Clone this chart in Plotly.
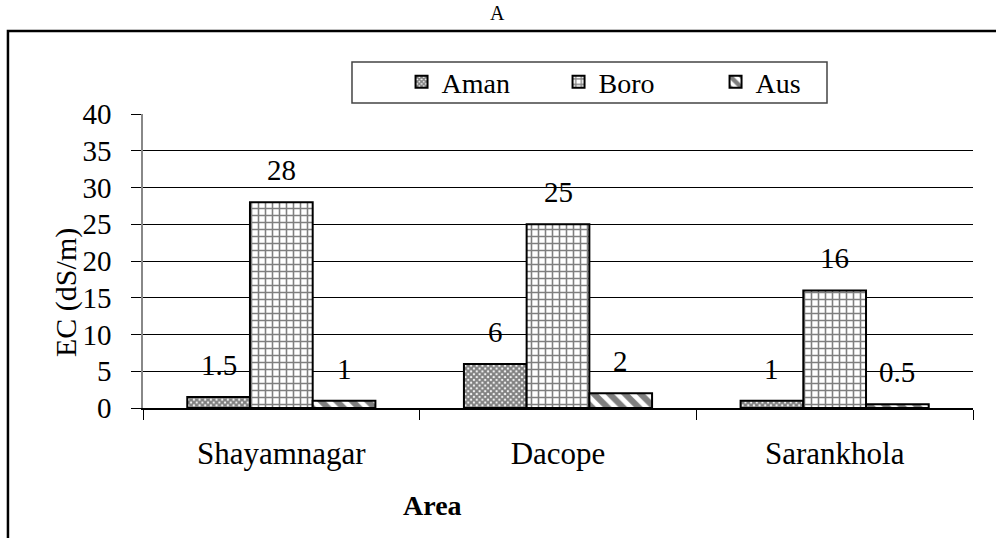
import plotly.graph_objects as go

# EC readings by area and rice season
areas = ["Shayamnagar", "Dacope", "Sarankhola"]
aman = [1.5, 6, 1]
boro = [28, 25, 16]
aus = [1, 2, 0.5]

series = [
    ("Aman", aman, dict(shape="x", size=4, solidity=0.75)),
    ("Boro", boro, dict(shape="+", size=7, solidity=0.4)),
    ("Aus", aus, dict(shape="\\", size=11, solidity=0.55)),
]

FONT = "Liberation Serif"
BARGAP = 0.32

fig = go.Figure()
for name, vals, pat in series:
    fig.add_trace(go.Bar(
        name=name, x=areas, y=vals,
        marker=dict(color="white", line=dict(color="black", width=2),
                    pattern=dict(fgcolor="black", bgcolor="white", fillmode="overlay", **pat)),
    ))

# value labels floating above each bar
n = len(series)
bw = (1 - BARGAP) / n
annotations = []
for si, (name, vals, _) in enumerate(series):
    off = (si - (n - 1) / 2) * bw
    for ci, v in enumerate(vals):
        annotations.append(dict(
            x=ci + off, y=v, xref="x", yref="y", text=f"{v:g}", showarrow=False,
            xanchor="center", yanchor="middle", yshift=32,
            font=dict(family=FONT, size=29, color="black"),
        ))

annotations += [
    dict(text="A", x=0.4277, y=1.3435, xref="paper", yref="paper", showarrow=False,
         xanchor="center", yanchor="middle", font=dict(family=FONT, size=20, color="black")),
    dict(text="EC (dS/m)", x=-0.0928, y=0.3946, xref="paper", yref="paper", showarrow=False,
         xanchor="center", yanchor="middle", textangle=-90,
         font=dict(family=FONT, size=30, color="black")),
    dict(text="<b>Area</b>", x=0.349, y=-0.330, xref="paper", yref="paper", showarrow=False,
         xanchor="center", yanchor="middle", font=dict(family=FONT, size=28, color="black")),
]

shapes = [
    # outer frame
    dict(type="rect", xref="paper", yref="paper", x0=-0.1627, x1=1.06, y0=-0.5, y1=1.2823,
         line=dict(color="black", width=2.5), fillcolor="rgba(0,0,0,0)", layer="below"),
    # legend frame
    dict(type="rect", xref="paper", yref="paper", x0=0.2518, x1=0.8241, y0=1.0374, y1=1.1769,
         line=dict(color="#444", width=1.5), fillcolor="rgba(0,0,0,0)"),
]

fig.update_layout(
    width=996, height=538,
    margin=dict(l=143, r=23, t=114, b=130),
    paper_bgcolor="white", plot_bgcolor="white",
    barmode="group", bargap=BARGAP, bargroupgap=0,
    font=dict(family=FONT, color="black", size=29),
    showlegend=True,
    legend=dict(orientation="h", x=0.3115, xanchor="left", y=1.109, yanchor="middle",
                font=dict(family=FONT, size=28, color="black"),
                bgcolor="rgba(0,0,0,0)", entrywidth=112, itemwidth=30),
    annotations=annotations, shapes=shapes,
)
fig.update_xaxes(
    showline=True, linecolor="black", linewidth=1.5,
    ticks="outside", ticklen=10, tickcolor="black", tickson="boundaries",
    ticklabelstandoff=17, tickfont=dict(family=FONT, size=31),
    showgrid=False,
)
fig.update_yaxes(
    range=[0, 40], dtick=5, showline=True, linecolor="#888", linewidth=1.5,
    ticks="outside", ticklen=10, tickcolor="black",
    ticklabelstandoff=14, tickfont=dict(family=FONT, size=29),
    showgrid=True, gridcolor="black", gridwidth=1.2, zeroline=False,
)

fig.write_html("out.html")
